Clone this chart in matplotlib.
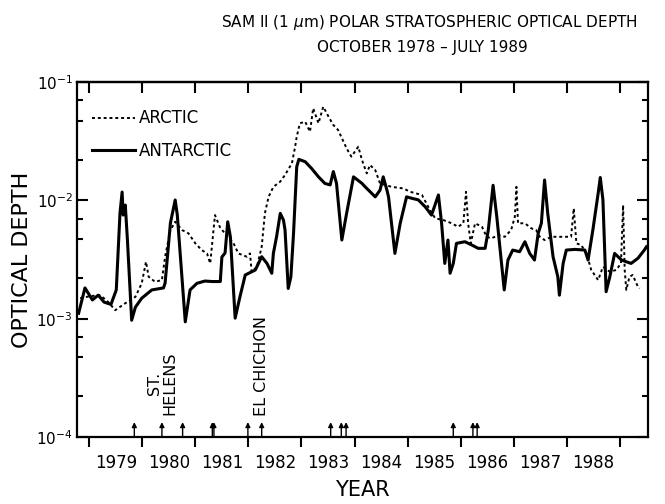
import matplotlib
matplotlib.use("Agg")
import matplotlib.pyplot as plt
from matplotlib.ticker import LogLocator, NullFormatter, FixedLocator

# --- data (decimal year, optical depth) ---
ant_year = [1978.80, 1978.92, 1979.06, 1979.17, 1979.28, 1979.41, 1979.51, 1979.58,
            1979.62, 1979.64, 1979.68, 1979.72, 1979.80, 1979.87, 1979.99, 1980.18,
            1980.40, 1980.43, 1980.53, 1980.62, 1980.66, 1980.81, 1980.90, 1981.03,
            1981.18, 1981.32, 1981.47, 1981.50, 1981.56, 1981.61, 1981.66, 1981.75,
            1981.84, 1981.94, 1982.13, 1982.25, 1982.35, 1982.44, 1982.47, 1982.53,
            1982.60, 1982.66, 1982.69, 1982.75, 1982.80, 1982.85, 1982.91, 1982.95,
            1983.07, 1983.19, 1983.32, 1983.44, 1983.54, 1983.60, 1983.66, 1983.76,
            1983.85, 1983.98, 1984.14, 1984.20, 1984.39, 1984.48, 1984.54, 1984.61,
            1984.64, 1984.76, 1984.86, 1984.98, 1985.08, 1985.20, 1985.33, 1985.45,
            1985.58, 1985.64, 1985.70, 1985.76, 1985.80, 1985.86, 1985.92, 1986.08,
            1986.21, 1986.33, 1986.46, 1986.52, 1986.61, 1986.68, 1986.82, 1986.89,
            1986.98, 1987.11, 1987.21, 1987.30, 1987.39, 1987.46, 1987.52, 1987.58,
            1987.64, 1987.74, 1987.83, 1987.86, 1987.93, 1987.99, 1988.15, 1988.34,
            1988.40, 1988.49, 1988.59, 1988.63, 1988.68, 1988.74, 1988.81, 1988.90,
            1989.03, 1989.21, 1989.34, 1989.46, 1989.50]
ant_tau = [0.00111, 0.00182, 0.00144, 0.00158, 0.00138, 0.00132, 0.00175, 0.00782,
           0.01175, 0.00751, 0.00912, 0.00462, 0.00097, 0.00125, 0.00149, 0.00175,
           0.00182, 0.00200, 0.00643, 0.01007, 0.00750, 0.00094, 0.00175, 0.00199,
           0.00208, 0.00206, 0.00206, 0.00332, 0.00359, 0.00659, 0.00492, 0.00101,
           0.00153, 0.00234, 0.00258, 0.00334, 0.00293, 0.00242, 0.00356, 0.00492,
           0.00776, 0.00681, 0.00561, 0.00180, 0.00226, 0.00526, 0.0192, 0.0222,
           0.0212, 0.0186, 0.0158, 0.0139, 0.0135, 0.0175, 0.0139, 0.00462,
           0.00776, 0.0158, 0.0139, 0.0130, 0.0107, 0.0122, 0.0158, 0.0122,
           0.0107, 0.00356, 0.0064, 0.0107, 0.0104, 0.0101, 0.00883, 0.0075,
           0.0111, 0.0064, 0.00293, 0.00462, 0.00242, 0.00293, 0.00433, 0.00447,
           0.00419, 0.00393, 0.00393, 0.00561, 0.0134, 0.00727, 0.00175, 0.00313,
           0.0038, 0.00368, 0.00447, 0.00356, 0.00313, 0.00526, 0.0064, 0.01485,
           0.00776, 0.00334, 0.00226, 0.00158, 0.00293, 0.0038, 0.00385, 0.0038,
           0.00313, 0.00561, 0.01146, 0.0156, 0.0101, 0.00169, 0.00226, 0.00356,
           0.00313, 0.00293, 0.00324, 0.0038, 0.00405]

arc_year = [1978.83, 1979.02, 1979.21, 1979.36, 1979.49, 1979.68, 1979.87, 1979.99,
            1980.07, 1980.12, 1980.24, 1980.37, 1980.43, 1980.53, 1980.62, 1980.75,
            1980.87, 1981.00, 1981.12, 1981.22, 1981.28, 1981.37, 1981.47, 1981.62,
            1981.72, 1981.81, 1981.97, 1982.03, 1982.06, 1982.16, 1982.25, 1982.31,
            1982.38, 1982.47, 1982.60, 1982.69, 1982.82, 1982.88, 1982.91, 1982.97,
            1983.07, 1983.16, 1983.22, 1983.32, 1983.41, 1983.51, 1983.60, 1983.69,
            1983.85, 1983.94, 1984.07, 1984.14, 1984.23, 1984.29, 1984.39, 1984.48,
            1984.57, 1984.70, 1984.92, 1985.05, 1985.27, 1985.42, 1985.52, 1985.67,
            1985.83, 1985.95, 1986.05, 1986.10, 1986.14, 1986.19, 1986.27, 1986.40,
            1986.49, 1986.58, 1986.71, 1986.83, 1986.95, 1987.02, 1987.05, 1987.08,
            1987.21, 1987.33, 1987.42, 1987.49, 1987.58, 1987.71, 1987.96, 1988.08,
            1988.13, 1988.18, 1988.27, 1988.37, 1988.46, 1988.59, 1988.68, 1988.81,
            1988.93, 1989.02, 1989.06, 1989.09, 1989.12, 1989.18, 1989.24, 1989.34,
            1989.37]
arc_tau = [0.00149, 0.00155, 0.00158, 0.00138, 0.00118, 0.00135, 0.00153, 0.00199,
           0.00303, 0.00226, 0.00205, 0.00212, 0.00334, 0.00561, 0.00659, 0.00561,
           0.00526, 0.00433, 0.0038, 0.00356, 0.00293, 0.0075, 0.00583, 0.00492,
           0.00433, 0.00356, 0.00334, 0.00356, 0.00249, 0.00274, 0.00405, 0.00776,
           0.0107, 0.0130, 0.0144, 0.0164, 0.0206, 0.0284, 0.0345, 0.0448,
           0.0462, 0.0380, 0.0600, 0.0448, 0.0618, 0.0509, 0.0433, 0.0393,
           0.0275, 0.0234, 0.0284, 0.0219, 0.0169, 0.0199, 0.0180, 0.0139,
           0.0135, 0.0130, 0.0126, 0.0118, 0.0111, 0.00828, 0.00705, 0.00682,
           0.0064, 0.00598, 0.0064, 0.0118, 0.0064, 0.00433, 0.0064, 0.00598,
           0.00492, 0.00477, 0.00509, 0.00492, 0.00561, 0.00727, 0.0130, 0.0064,
           0.0064, 0.0058, 0.00561, 0.00492, 0.00462, 0.00492, 0.00492, 0.00492,
           0.00855, 0.00433, 0.00419, 0.00356, 0.00258, 0.00212, 0.00274, 0.00249,
           0.00258, 0.00293, 0.00912, 0.00258, 0.00175, 0.00226, 0.00234, 0.00186,
           0.00180]

# volcanic eruptions marked with arrows along the bottom
eruption_year = [1979.85, 1980.37, 1980.76, 1981.32, 1981.35, 1981.99, 1982.25,
                 1983.55, 1983.75, 1983.84, 1985.86, 1986.23, 1986.31]
year_labels = [1979, 1980, 1981, 1982, 1983, 1984, 1985, 1986, 1987, 1988]

fig = plt.figure(figsize=(6.65, 5.04), dpi=100)
ax = fig.add_axes([0.1158, 0.1329, 0.8579, 0.7044])

ax.plot(arc_year, arc_tau, color='black', lw=1.4, linestyle=(0, (1.5, 1.5)), label='ARCTIC')
ax.plot(ant_year, ant_tau, color='black', lw=2.2, label='ANTARCTIC')

ax.set_yscale('log')
ax.set_ylim(1e-4, 1e-1)
ax.set_xlim(1978.77, 1989.52)

# year ticks on boundaries, labels centred in between
ax.xaxis.set_major_locator(FixedLocator(list(range(1979, 1990))))
ax.xaxis.set_minor_locator(FixedLocator([y + 0.5 for y in year_labels]))
ax.set_xticklabels([])
ax.set_xticklabels([str(y) for y in year_labels], minor=True)
ax.tick_params(axis='x', which='major', direction='out', length=7, width=1.5)
ax.tick_params(axis='x', which='minor', length=0, pad=12, labelsize=12)

top = ax.secondary_xaxis('top')
top.set_xticks(list(range(1979, 1990)))
top.tick_params(direction='in', length=8, width=1.5, labeltop=False)

ax.yaxis.set_major_locator(LogLocator(base=10, numticks=10))
ax.yaxis.set_minor_locator(LogLocator(base=10, subs=(2.2, 4.7, 7.0), numticks=10))
ax.yaxis.set_minor_formatter(NullFormatter())
ax.tick_params(axis='y', which='both', direction='in', left=True, right=True, width=1.5)
ax.tick_params(axis='y', which='major', length=8, labelsize=11, pad=3)
ax.tick_params(axis='y', which='minor', length=4)

for s in ax.spines.values():
    s.set_linewidth(1.6)
top.spines['top'].set_linewidth(1.6)

for yr in eruption_year:
    ax.annotate('', xy=(yr, 0.042), xytext=(yr, 0.0), xycoords=ax.get_xaxis_transform(),
                arrowprops=dict(arrowstyle='-|>', color='black', lw=1.0,
                                mutation_scale=7, shrinkA=0, shrinkB=0))

ax.text(1980.37, 0.152, 'ST.\nHELENS', transform=ax.get_xaxis_transform(), rotation=90,
        ha='center', va='center', multialignment='center', fontsize=11.5, linespacing=1.0)
ax.text(1982.25, 0.20, 'EL CHICHON', transform=ax.get_xaxis_transform(), rotation=90,
        ha='center', va='center', fontsize=11.5)

ax.legend(loc='upper left', bbox_to_anchor=(0.0, 0.965), frameon=False, fontsize=12,
          handlelength=2.6, handletextpad=0.2, labelspacing=0.85)

ax.set_ylabel('OPTICAL DEPTH', fontsize=16, labelpad=3)
ax.set_xlabel('YEAR', fontsize=15, labelpad=6)

fig.text(0.645, 0.955, r'SAM II (1 $\mu$m) POLAR STRATOSPHERIC OPTICAL DEPTH',
         ha='center', va='center', fontsize=11)
fig.text(0.635, 0.905, 'OCTOBER 1978 \u2013 JULY 1989', ha='center', va='center', fontsize=11)

fig.savefig('out.png', dpi=100)
